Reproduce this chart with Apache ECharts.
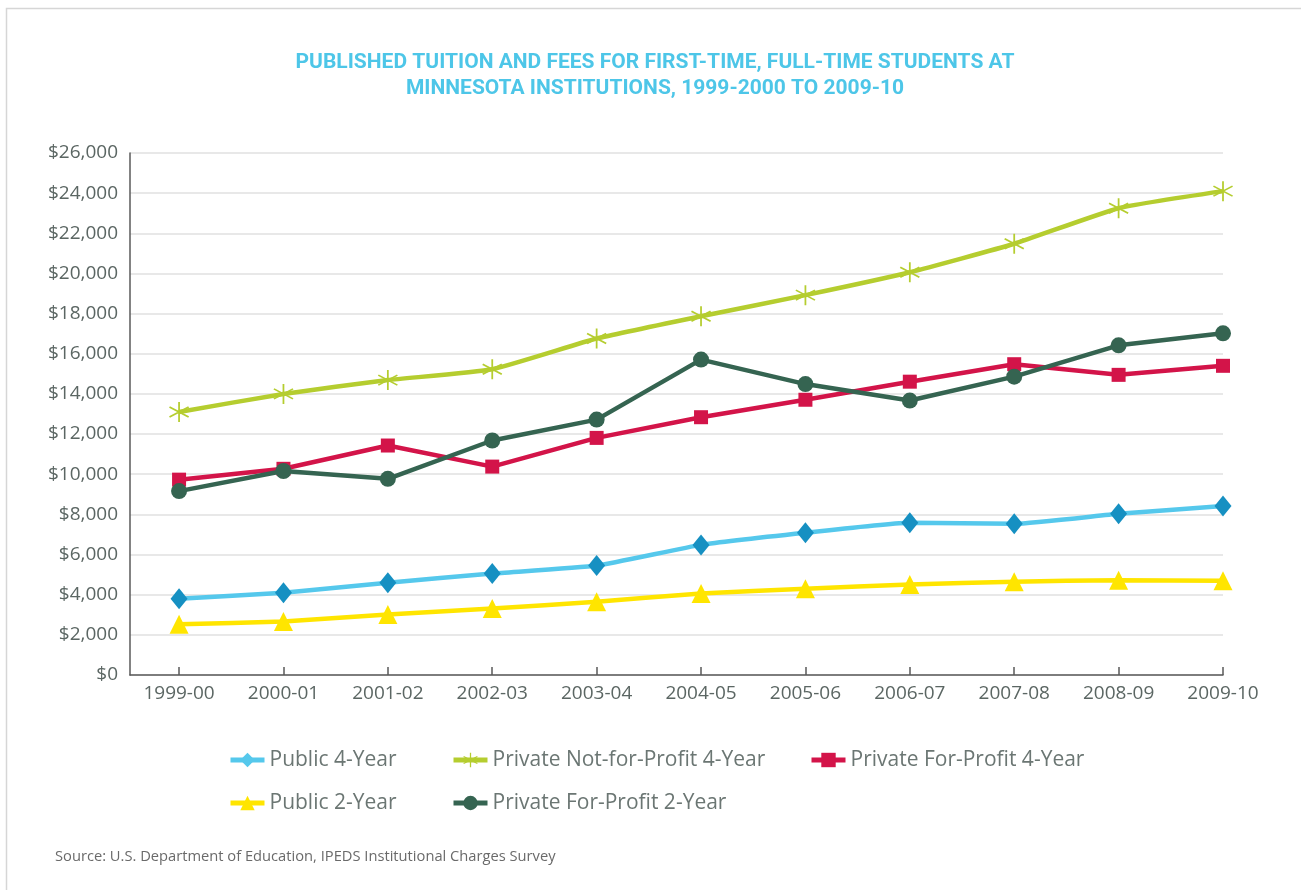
<!DOCTYPE html>
<html>
<head>
<meta charset="utf-8">
<script src="https://cdn.jsdelivr.net/npm/echarts@6/dist/echarts.min.js"></script>
<style>
html,body{margin:0;padding:0;background:#fff;}
#chart{width:1301px;height:890px;}
</style>
</head>
<body>
<div id="chart"></div>
<script>
const categories = ['1999-00','2000-01','2001-02','2002-03','2003-04','2004-05','2005-06','2006-07','2007-08','2008-09','2009-10'];
const yTickLabels = ['$0','$2,000','$4,000','$6,000','$8,000','$10,000','$12,000','$14,000','$16,000','$18,000','$20,000','$22,000','$24,000','$26,000'];
const public4 = [3800, 4100, 4600, 5050, 5450, 6480, 7080, 7580, 7530, 8030, 8420];
const privNFP4 = [13100, 14000, 14690, 15230, 16760, 17870, 18920, 20060, 21480, 23250, 24100];
const privFP4 = [9730, 10270, 11430, 10380, 11810, 12840, 13710, 14610, 15480, 14950, 15400];
const public2 = [2530, 2670, 3010, 3310, 3650, 4060, 4300, 4510, 4650, 4720, 4700];
const privFP2 = [9160, 10160, 9770, 11680, 12720, 15710, 14490, 13670, 14860, 16420, 17020];
const titleLines = ['PUBLISHED TUITION AND FEES FOR FIRST-TIME, FULL-TIME STUDENTS AT', 'MINNESOTA INSTITUTIONS, 1999-2000 TO 2009-10'];
const sourceText = 'Source: U.S. Department of Education, IPEDS Institutional Charges Survey';

const asterisk = 'path://M-0.8,-10L0.8,-10L0.8,10L-0.8,10Z' +
  'M-9.06,-4.31L-8.26,-5.69L9.06,4.31L8.26,5.69Z' +
  'M-8.26,5.69L-9.06,4.31L8.26,-5.69L9.06,-4.31Z';

const pts = arr => arr.map((v, i) => [i, v]);
const idx = categories.map((c, i) => i);
const FONT = '"Open Sans", sans-serif';
const labelColor = '#5b6663';

const chart = echarts.init(document.getElementById('chart'), null, {renderer: 'canvas'});
const legendText = {color: '#6b7673', fontSize: 21, fontFamily: FONT, lineHeight: 22};
const legendBase = {top: 749, orient: 'vertical', padding: 0, itemWidth: 34, itemHeight: 18, itemGap: 21,
  textStyle: legendText, lineStyle: {width: 5}};
chart.setOption({
  animation: false,
  backgroundColor: '#fff',
  grid: {left: 130, right: 78, top: 153, bottom: 215, containLabel: false},
  xAxis: {
    type: 'value', min: -0.47, max: 10,
    axisLine: {show: true, onZero: false, lineStyle: {color: '#5a5a5a', width: 1.5}},
    axisTick: {show: true, inside: true, length: 8, customValues: idx, lineStyle: {color: '#5a5a5a', width: 1.5}},
    axisLabel: {customValues: idx, formatter: v => categories[Math.round(v)], color: labelColor, fontSize: 19, fontFamily: FONT, margin: 9},
    splitLine: {show: false}
  },
  yAxis: {
    type: 'value', min: 0, max: 26000, interval: 2000,
    axisLine: {show: true, onZero: false, lineStyle: {color: '#5a5a5a', width: 1.5}},
    axisTick: {show: false},
    axisLabel: {formatter: v => yTickLabels[Math.round(v / 2000)], color: labelColor, fontSize: 19, fontFamily: FONT, margin: 12},
    splitLine: {show: true, lineStyle: {color: '#e0e0e0', width: 1.5}}
  },
  legend: [
    Object.assign({left: 228, data: [{name: 'Public 4-Year', itemStyle: {color: '#55c8ec'}}, 'Public 2-Year']}, legendBase),
    Object.assign({left: 451, data: ['Private Not-for-Profit 4-Year', 'Private For-Profit 2-Year']}, legendBase),
    Object.assign({left: 809, data: ['Private For-Profit 4-Year']}, legendBase)
  ],
  graphic: [
    {type: 'rect', silent: true, z: -10, shape: {x: 6.5, y: 8.5, width: 1400, height: 1000},
     style: {fill: 'none', stroke: '#d6d6d6', lineWidth: 1.5}},
    {type: 'text', x: 655, y: 63, style: {text: titleLines[0], fill: '#4dc6e8', font: 'bold 21px Roboto, sans-serif', textAlign: 'center', textVerticalAlign: 'middle'}},
    {type: 'text', x: 655, y: 89, style: {text: titleLines[1], fill: '#4dc6e8', font: 'bold 21px Roboto, sans-serif', textAlign: 'center', textVerticalAlign: 'middle'}},
    {type: 'text', x: 55, y: 857, style: {text: sourceText, fill: '#6a6a6a', font: '14.7px "Open Sans", sans-serif', textAlign: 'left', textVerticalAlign: 'middle'}}
  ],
  series: [
    {name: 'Public 2-Year', type: 'line', data: pts(public2), smooth: 0.15, symbol: 'triangle', symbolSize: 19,
     lineStyle: {color: '#ffe500', width: 4.5}, itemStyle: {color: '#ffe500'}, z: 2},
    {name: 'Public 4-Year', type: 'line', data: pts(public4), smooth: 0.15, symbol: 'diamond', symbolSize: [17, 21],
     lineStyle: {color: '#55c8ec', width: 4.5}, itemStyle: {color: '#1690c2'}, z: 3},
    {name: 'Private Not-for-Profit 4-Year', type: 'line', data: pts(privNFP4), smooth: 0.15, symbol: asterisk, symbolSize: 20,
     lineStyle: {color: '#b5cd2f', width: 4.5}, itemStyle: {color: '#b5cd2f'}, z: 4},
    {name: 'Private For-Profit 4-Year', type: 'line', data: pts(privFP4), symbol: 'rect', symbolSize: 14,
     lineStyle: {color: '#d31449', width: 4.5}, itemStyle: {color: '#d31449'}, z: 5},
    {name: 'Private For-Profit 2-Year', type: 'line', data: pts(privFP2), symbol: 'circle', symbolSize: 16,
     lineStyle: {color: '#356451', width: 4.5}, itemStyle: {color: '#356451'}, z: 6}
  ]
});
</script>
</body>
</html>
